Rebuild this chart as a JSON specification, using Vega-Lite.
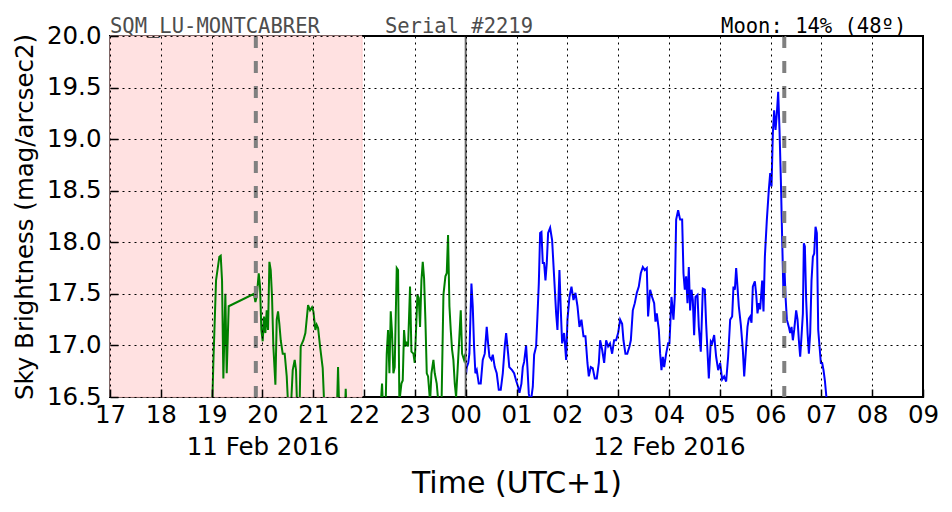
{
  "$schema": "https://vega.github.io/schema/vega-lite/v6.json",
  "width": 813,
  "height": 361,
  "autosize": {"type": "none"},
  "padding": {"left": 110, "top": 36, "right": 29, "bottom": 115},
  "background": "white",
  "config": {
    "view": {"stroke": "black", "strokeWidth": 2},
    "font": "DejaVu Sans"
  },
  "datasets": {
    "sqm": [
      {"s":"g","t":19.00,"v":16.2},{"s":"g","t":19.034,"v":16.83},{"s":"g","t":19.087,"v":17.63},{"s":"g","t":19.152,"v":17.86},{"s":"g","t":19.179,"v":17.87},{"s":"g","t":19.205,"v":17.63},{"s":"g","t":19.231,"v":16.68},{"s":"g","t":19.270,"v":17.50},{"s":"g","t":19.297,"v":16.73},{"s":"g","t":19.336,"v":17.38},{"s":"g","t":19.835,"v":17.50},{"s":"g","t":19.861,"v":17.42},{"s":"g","t":19.887,"v":17.47},{"s":"g","t":19.927,"v":17.70},{"s":"g","t":19.953,"v":17.57},{"s":"g","t":19.979,"v":17.15},{"s":"g","t":20.005,"v":17.04},{"s":"g","t":20.032,"v":17.28},{"s":"g","t":20.058,"v":17.12},{"s":"g","t":20.084,"v":17.34},{"s":"g","t":20.110,"v":17.15},{"s":"g","t":20.137,"v":17.81},{"s":"g","t":20.163,"v":17.73},{"s":"g","t":20.189,"v":17.47},{"s":"g","t":20.215,"v":16.99},{"s":"g","t":20.255,"v":16.62},{"s":"g","t":20.281,"v":17.25},{"s":"g","t":20.307,"v":17.33},{"s":"g","t":20.333,"v":17.21},{"s":"g","t":20.360,"v":17.05},{"s":"g","t":20.399,"v":16.92},{"s":"g","t":20.438,"v":16.92},{"s":"g","t":20.478,"v":16.70},{"s":"g","t":20.517,"v":16.3},{"s":"g","t":20.556,"v":16.35},{"s":"g","t":20.596,"v":16.76},{"s":"g","t":20.635,"v":16.86},{"s":"g","t":20.661,"v":16.76},{"s":"g","t":20.688,"v":16.3},{"s":"g","t":20.727,"v":16.3},{"s":"g","t":20.753,"v":16.99},{"s":"g","t":20.806,"v":17.05},{"s":"g","t":20.845,"v":17.12},{"s":"g","t":20.898,"v":17.39},{"s":"g","t":20.937,"v":17.34},{"s":"g","t":20.976,"v":17.37},{"s":"g","t":21.003,"v":17.33},{"s":"g","t":21.042,"v":17.15},{"s":"g","t":21.068,"v":17.20},{"s":"g","t":21.095,"v":17.17},{"s":"g","t":21.134,"v":16.99},{"s":"g","t":21.186,"v":16.78},{"s":"g","t":21.226,"v":16.3},{"s":"g","t":21.462,"v":16.3},{"s":"g","t":21.488,"v":16.79},{"s":"g","t":21.515,"v":16.3},{"s":"g","t":21.620,"v":16.3},{"s":"g","t":21.639,"v":16.58},{"s":"g","t":21.659,"v":16.3},{"s":"g","t":22.30,"v":16.2},{"s":"g","t":22.354,"v":16.63},{"s":"g","t":22.38,"v":16.3},{"s":"g","t":22.42,"v":16.3},{"s":"g","t":22.446,"v":16.92},{"s":"g","t":22.472,"v":17.15},{"s":"g","t":22.499,"v":16.73},{"s":"g","t":22.525,"v":17.33},{"s":"g","t":22.551,"v":17.12},{"s":"g","t":22.577,"v":16.73},{"s":"g","t":22.603,"v":16.79},{"s":"g","t":22.643,"v":17.75},{"s":"g","t":22.669,"v":17.73},{"s":"g","t":22.695,"v":16.45},{"s":"g","t":22.735,"v":16.63},{"s":"g","t":22.761,"v":16.66},{"s":"g","t":22.787,"v":17.15},{"s":"g","t":22.813,"v":16.99},{"s":"g","t":22.840,"v":17.02},{"s":"g","t":22.866,"v":16.99},{"s":"g","t":22.905,"v":17.57},{"s":"g","t":22.932,"v":16.94},{"s":"g","t":22.971,"v":16.92},{"s":"g","t":22.997,"v":16.83},{"s":"g","t":23.023,"v":17.15},{"s":"g","t":23.050,"v":17.49},{"s":"g","t":23.076,"v":17.46},{"s":"g","t":23.102,"v":17.18},{"s":"g","t":23.129,"v":17.63},{"s":"g","t":23.155,"v":17.81},{"s":"g","t":23.181,"v":17.65},{"s":"g","t":23.207,"v":17.25},{"s":"g","t":23.234,"v":16.73},{"s":"g","t":23.260,"v":16.70},{"s":"g","t":23.299,"v":16.45},{"s":"g","t":23.326,"v":16.73},{"s":"g","t":23.365,"v":16.86},{"s":"g","t":23.391,"v":16.73},{"s":"g","t":23.430,"v":16.63},{"s":"g","t":23.470,"v":16.4},{"s":"g","t":23.52,"v":16.3},{"s":"g","t":23.562,"v":17.49},{"s":"g","t":23.601,"v":17.67},{"s":"g","t":23.627,"v":17.70},{"s":"g","t":23.653,"v":18.07},{"s":"g","t":23.680,"v":17.38},{"s":"g","t":23.706,"v":17.15},{"s":"g","t":23.732,"v":16.96},{"s":"g","t":23.758,"v":16.86},{"s":"g","t":23.785,"v":16.63},{"s":"g","t":23.811,"v":16.50},{"s":"g","t":23.837,"v":16.73},{"s":"g","t":23.876,"v":17.09},{"s":"g","t":23.903,"v":17.34},{"s":"g","t":23.929,"v":16.92},{"s":"g","t":23.968,"v":16.86},{"s":"g","t":23.995,"v":16.92},
      {"s":"b","t":24.008,"v":16.72},{"s":"b","t":24.021,"v":16.79},{"s":"b","t":24.05,"v":16.83},{"s":"b","t":24.073,"v":16.92},{"s":"b","t":24.113,"v":17.60},{"s":"b","t":24.139,"v":17.38},{"s":"b","t":24.165,"v":16.99},{"s":"b","t":24.191,"v":16.73},{"s":"b","t":24.218,"v":16.76},{"s":"b","t":24.257,"v":16.63},{"s":"b","t":24.296,"v":16.63},{"s":"b","t":24.336,"v":16.86},{"s":"b","t":24.375,"v":16.92},{"s":"b","t":24.414,"v":17.18},{"s":"b","t":24.441,"v":17.02},{"s":"b","t":24.467,"v":16.89},{"s":"b","t":24.506,"v":16.86},{"s":"b","t":24.533,"v":16.91},{"s":"b","t":24.572,"v":16.79},{"s":"b","t":24.611,"v":16.73},{"s":"b","t":24.651,"v":16.57},{"s":"b","t":24.690,"v":16.57},{"s":"b","t":24.730,"v":16.73},{"s":"b","t":24.769,"v":16.99},{"s":"b","t":24.796,"v":17.12},{"s":"b","t":24.835,"v":16.92},{"s":"b","t":24.858,"v":16.79},{"s":"b","t":24.913,"v":16.76},{"s":"b","t":24.953,"v":16.73},{"s":"b","t":24.992,"v":16.66},{"s":"b","t":25.031,"v":16.60},{"s":"b","t":25.058,"v":16.54},{"s":"b","t":25.097,"v":16.63},{"s":"b","t":25.124,"v":16.79},{"s":"b","t":25.15,"v":16.84},{"s":"b","t":25.189,"v":17.00},{"s":"b","t":25.215,"v":16.79},{"s":"b","t":25.242,"v":16.53},{"s":"b","t":25.281,"v":16.45},{"s":"b","t":25.321,"v":16.60},{"s":"b","t":25.347,"v":16.91},{"s":"b","t":25.386,"v":16.99},{"s":"b","t":25.412,"v":17.28},{"s":"b","t":25.439,"v":17.60},{"s":"b","t":25.465,"v":18.09},{"s":"b","t":25.491,"v":18.10},{"s":"b","t":25.517,"v":17.80},{"s":"b","t":25.543,"v":17.80},{"s":"b","t":25.570,"v":17.63},{"s":"b","t":25.596,"v":17.80},{"s":"b","t":25.622,"v":18.09},{"s":"b","t":25.662,"v":18.14},{"s":"b","t":25.701,"v":18.02},{"s":"b","t":25.740,"v":17.67},{"s":"b","t":25.780,"v":17.31},{"s":"b","t":25.806,"v":17.15},{"s":"b","t":25.845,"v":17.73},{"s":"b","t":25.872,"v":17.34},{"s":"b","t":25.898,"v":17.02},{"s":"b","t":25.937,"v":17.12},{"s":"b","t":25.977,"v":16.86},{"s":"b","t":26.003,"v":17.25},{"s":"b","t":26.042,"v":17.47},{"s":"b","t":26.082,"v":17.57},{"s":"b","t":26.121,"v":17.44},{"s":"b","t":26.160,"v":17.51},{"s":"b","t":26.200,"v":17.38},{"s":"b","t":26.239,"v":17.18},{"s":"b","t":26.278,"v":17.25},{"s":"b","t":26.318,"v":17.09},{"s":"b","t":26.357,"v":17.09},{"s":"b","t":26.396,"v":16.83},{"s":"b","t":26.423,"v":16.70},{"s":"b","t":26.462,"v":16.79},{"s":"b","t":26.50,"v":16.78},{"s":"b","t":26.541,"v":16.68},{"s":"b","t":26.58,"v":16.68},{"s":"b","t":26.620,"v":16.83},{"s":"b","t":26.646,"v":17.05},{"s":"b","t":26.685,"v":16.96},{"s":"b","t":26.725,"v":16.83},{"s":"b","t":26.764,"v":17.05},{"s":"b","t":26.803,"v":16.99},{"s":"b","t":26.84,"v":17.02},{"s":"b","t":26.882,"v":16.92},{"s":"b","t":26.921,"v":17.05},{"s":"b","t":26.96,"v":17.05},{"s":"b","t":27.000,"v":17.12},{"s":"b","t":27.040,"v":17.25},{"s":"b","t":27.079,"v":17.21},{"s":"b","t":27.105,"v":17.05},{"s":"b","t":27.144,"v":16.92},{"s":"b","t":27.18,"v":16.92},{"s":"b","t":27.223,"v":16.99},{"s":"b","t":27.250,"v":17.05},{"s":"b","t":27.289,"v":17.34},{"s":"b","t":27.328,"v":17.41},{"s":"b","t":27.368,"v":17.51},{"s":"b","t":27.407,"v":17.57},{"s":"b","t":27.446,"v":17.70},{"s":"b","t":27.486,"v":17.76},{"s":"b","t":27.525,"v":17.73},{"s":"b","t":27.564,"v":17.75},{"s":"b","t":27.590,"v":17.28},{"s":"b","t":27.630,"v":17.54},{"s":"b","t":27.669,"v":17.47},{"s":"b","t":27.709,"v":17.41},{"s":"b","t":27.735,"v":17.23},{"s":"b","t":27.761,"v":17.31},{"s":"b","t":27.801,"v":17.15},{"s":"b","t":27.827,"v":16.92},{"s":"b","t":27.853,"v":16.76},{"s":"b","t":27.880,"v":16.89},{"s":"b","t":27.906,"v":16.79},{"s":"b","t":27.945,"v":16.92},{"s":"b","t":27.984,"v":17.02},{"s":"b","t":28.010,"v":17.02},{"s":"b","t":28.050,"v":17.47},{"s":"b","t":28.089,"v":17.25},{"s":"b","t":28.115,"v":17.47},{"s":"b","t":28.142,"v":18.22},{"s":"b","t":28.181,"v":18.31},{"s":"b","t":28.220,"v":18.22},{"s":"b","t":28.260,"v":18.22},{"s":"b","t":28.286,"v":17.70},{"s":"b","t":28.312,"v":17.54},{"s":"b","t":28.339,"v":17.67},{"s":"b","t":28.365,"v":17.41},{"s":"b","t":28.391,"v":17.76},{"s":"b","t":28.417,"v":17.34},{"s":"b","t":28.444,"v":17.54},{"s":"b","t":28.470,"v":17.44},{"s":"b","t":28.496,"v":17.10},{"s":"b","t":28.522,"v":17.47},{"s":"b","t":28.562,"v":17.49},{"s":"b","t":28.588,"v":17.18},{"s":"b","t":28.627,"v":16.94},{"s":"b","t":28.667,"v":17.55},{"s":"b","t":28.706,"v":17.54},{"s":"b","t":28.732,"v":17.21},{"s":"b","t":28.785,"v":16.68},{"s":"b","t":28.824,"v":17.04},{"s":"b","t":28.85,"v":17.02},{"s":"b","t":28.890,"v":17.10},{"s":"b","t":28.929,"v":16.89},{"s":"b","t":28.969,"v":16.76},{"s":"b","t":29.008,"v":16.83},{"s":"b","t":29.047,"v":16.67},{"s":"b","t":29.087,"v":16.70},{"s":"b","t":29.126,"v":16.65},{"s":"b","t":29.165,"v":16.89},{"s":"b","t":29.205,"v":17.25},{"s":"b","t":29.244,"v":17.28},{"s":"b","t":29.270,"v":17.57},{"s":"b","t":29.297,"v":17.54},{"s":"b","t":29.323,"v":17.75},{"s":"b","t":29.349,"v":17.57},{"s":"b","t":29.375,"v":17.38},{"s":"b","t":29.415,"v":17.20},{"s":"b","t":29.454,"v":16.96},{"s":"b","t":29.481,"v":16.70},{"s":"b","t":29.520,"v":16.99},{"s":"b","t":29.546,"v":17.18},{"s":"b","t":29.572,"v":17.26},{"s":"b","t":29.599,"v":17.28},{"s":"b","t":29.625,"v":17.22},{"s":"b","t":29.651,"v":17.57},{"s":"b","t":29.691,"v":17.62},{"s":"b","t":29.717,"v":17.50},{"s":"b","t":29.743,"v":17.31},{"s":"b","t":29.769,"v":17.41},{"s":"b","t":29.795,"v":17.35},{"s":"b","t":29.835,"v":17.63},{"s":"b","t":29.861,"v":17.33},{"s":"b","t":29.888,"v":17.86},{"s":"b","t":29.927,"v":18.22},{"s":"b","t":29.966,"v":18.51},{"s":"b","t":29.993,"v":18.67},{"s":"b","t":30.019,"v":18.54},{"s":"b","t":30.045,"v":19.06},{"s":"b","t":30.071,"v":19.28},{"s":"b","t":30.098,"v":19.09},{"s":"b","t":30.124,"v":19.25},{"s":"b","t":30.150,"v":19.46},{"s":"b","t":30.176,"v":19.09},{"s":"b","t":30.203,"v":18.60},{"s":"b","t":30.229,"v":18.02},{"s":"b","t":30.255,"v":17.47},{"s":"b","t":30.275,"v":17.73},{"s":"b","t":30.295,"v":17.47},{"s":"b","t":30.321,"v":17.25},{"s":"b","t":30.360,"v":17.18},{"s":"b","t":30.386,"v":17.12},{"s":"b","t":30.413,"v":17.18},{"s":"b","t":30.439,"v":17.05},{"s":"b","t":30.465,"v":17.15},{"s":"b","t":30.504,"v":17.34},{"s":"b","t":30.531,"v":17.25},{"s":"b","t":30.557,"v":17.05},{"s":"b","t":30.583,"v":16.89},{"s":"b","t":30.609,"v":17.09},{"s":"b","t":30.636,"v":17.31},{"s":"b","t":30.655,"v":17.99},{"s":"b","t":30.675,"v":17.96},{"s":"b","t":30.701,"v":17.44},{"s":"b","t":30.728,"v":17.12},{"s":"b","t":30.754,"v":16.92},{"s":"b","t":30.780,"v":17.12},{"s":"b","t":30.806,"v":17.63},{"s":"b","t":30.833,"v":17.86},{"s":"b","t":30.859,"v":17.89},{"s":"b","t":30.885,"v":18.15},{"s":"b","t":30.911,"v":18.09},{"s":"b","t":30.938,"v":17.15},{"s":"b","t":30.964,"v":16.99},{"s":"b","t":30.990,"v":16.83},{"s":"b","t":31.016,"v":16.83},{"s":"b","t":31.042,"v":16.76},{"s":"b","t":31.069,"v":16.66},{"s":"b","t":31.108,"v":16.45},{"s":"b","t":31.13,"v":16.3}
    ]
  },
  "layer": [
    {
      "data": {"values": [{"t0": 17, "t1": 21.96}]},
      "mark": {"type": "rect", "fill": "#ffe1e1", "stroke": "#ffcccc", "strokeWidth": 1},
      "encoding": {
        "x": {"field": "t0", "type": "quantitative", "scale": {"domain": [17, 33], "nice": false, "zero": false}},
        "x2": {"field": "t1"}
      }
    },
    {
      "data": {"name": "sqm"},
      "mark": {"type": "line", "strokeWidth": 2, "clip": true},
      "encoding": {
        "x": {
          "field": "t", "type": "quantitative",
          "scale": {"domain": [17, 33], "nice": false, "zero": false},
          "axis": {
            "values": [17,18,19,20,21,22,23,24,25,26,27,28,29,30,31,32,33],
            "labelExpr": "datum.value == 20 ? ['20', '11 Feb 2016'] : datum.value == 28 ? ['04', '12 Feb 2016'] : ((datum.value % 24) < 10 ? '0' + (datum.value % 24) : '' + (datum.value % 24))",
            "grid": true, "gridColor": "black", "gridDash": [2, 4], "gridWidth": 1, "gridOpacity": 1,
            "domain": false,
            "ticks": true, "tickColor": "black", "tickSize": -8, "tickWidth": 1.5,
            "labelFont": "DejaVu Sans", "labelFontSize": 24.5, "labelColor": "black",
            "labelPadding": 14, "labelLineHeight": 32, "labelFlush": false, "labelOverlap": false,
            "title": "Time (UTC+1)", "titleFont": "DejaVu Sans", "titleFontSize": 30, "titleFontWeight": "normal", "titleColor": "black", "titlePadding": 10,
            "zindex": 1
          }
        },
        "y": {
          "field": "v", "type": "quantitative",
          "scale": {"domain": [16.5, 20], "nice": false, "zero": false},
          "axis": {
            "values": [16.5,17,17.5,18,18.5,19,19.5,20],
            "format": ".1f",
            "grid": true, "gridColor": "black", "gridDash": [2, 4], "gridWidth": 1, "gridOpacity": 1,
            "domain": false,
            "ticks": true, "tickColor": "black", "tickSize": -8, "tickWidth": 1.5,
            "labelFont": "DejaVu Sans", "labelFontSize": 24.5, "labelColor": "black",
            "labelPadding": 17, "labelFlush": false, "labelOverlap": false,
            "title": "Sky Brightness (mag/arcsec2)", "titleFont": "DejaVu Sans", "titleFontSize": 24.5, "titleFontWeight": "normal", "titleColor": "black", "titlePadding": 9,
            "zindex": 1
          }
        },
        "color": {"field": "s", "type": "nominal", "scale": {"domain": ["g", "b"], "range": ["#008000", "#0000ff"]}, "legend": null},
        "detail": {"field": "s"}
      }
    },
    {
      "data": {"values": [{"t": 19.87}, {"t": 30.27}]},
      "mark": {"type": "rule", "color": "#808080", "strokeWidth": 4, "strokeDash": [12, 13]},
      "encoding": {"x": {"field": "t", "type": "quantitative"}}
    },
    {
      "data": {"values": [{"t": 24}]},
      "mark": {"type": "rule", "color": "#666666", "strokeWidth": 2},
      "encoding": {"x": {"field": "t", "type": "quantitative"}}
    },
    {
      "data": {"values": [{"label": "SQM_LU-MONTCABRER", "t": 17}, {"label": "Serial #2219", "t": 22.41}]},
      "mark": {"type": "text", "align": "left", "baseline": "alphabetic", "dy": -3, "font": "DejaVu Sans Mono", "fontSize": 20.5, "color": "#4d4d4d"},
      "encoding": {"x": {"field": "t", "type": "quantitative"}, "y": {"datum": 20}, "text": {"field": "label"}}
    },
    {
      "data": {"values": [{"label": "Moon: 14% (48º)", "t": 32.67}]},
      "mark": {"type": "text", "align": "right", "baseline": "alphabetic", "dy": -3, "font": "DejaVu Sans Mono", "fontSize": 20.5, "color": "black"},
      "encoding": {"x": {"field": "t", "type": "quantitative"}, "y": {"datum": 20}, "text": {"field": "label"}}
    }
  ]
}
